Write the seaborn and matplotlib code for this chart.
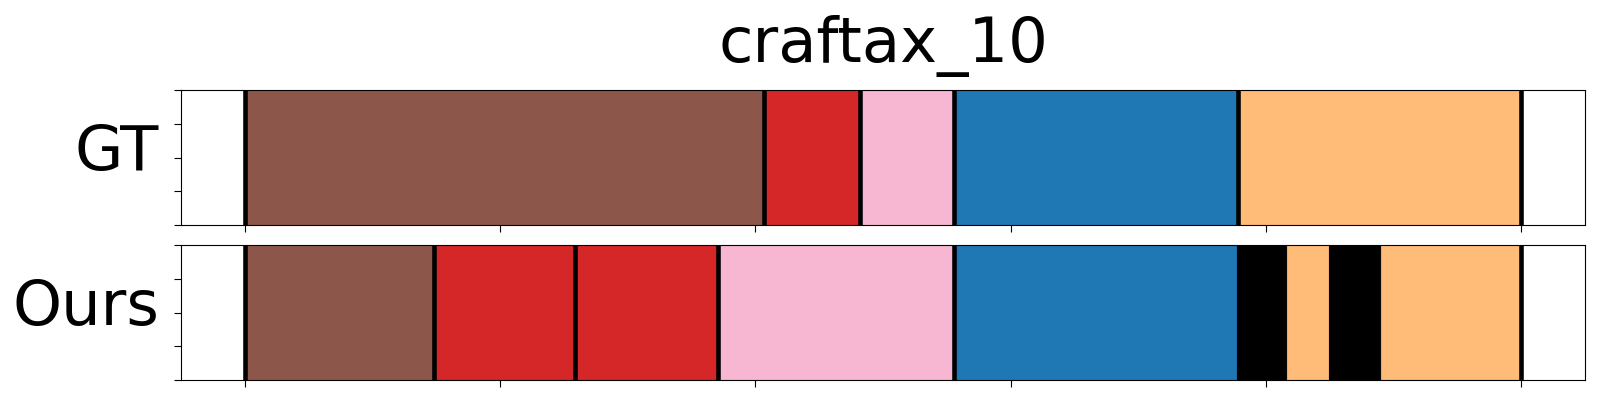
import matplotlib
matplotlib.use("Agg")
import matplotlib.pyplot as plt
import seaborn as sns
import numpy as np

# ---- data (percent of episode) ----
title = "craftax_10"
row_names = ["GT", "Ours"]

gt_bounds = [0, 40.7, 48.2, 55.55, 77.8, 100]
gt_labels = ["brown", "red", "pink", "blue", "orange"]

ours_bounds = [0, 14.8, 25.9, 37.05, 55.55, 77.7, 81.65, 84.95, 89.0, 100]
ours_labels = ["brown", "red", "red", "pink", "blue", "black", "orange", "black", "orange"]

x_ticks = [0, 20, 40, 60, 80, 100]
y_ticks = [0, 0.25, 0.5, 0.75, 1.0]

sns.set_style("white")
plt.rcParams["font.family"] = ["DejaVu Sans"]
plt.rcParams["axes.edgecolor"] = "black"
plt.rcParams["xtick.color"] = "black"
plt.rcParams["ytick.color"] = "black"
plt.rcParams["text.color"] = "black"
plt.rcParams["axes.labelcolor"] = "black"

tab10 = sns.color_palette("tab10")
tab20 = sns.color_palette("tab20")
colors = {
    "brown": tab10[5],
    "red": tab10[3],
    "pink": tab20[13],
    "blue": tab10[0],
    "orange": tab20[3],
    "black": (0, 0, 0),
}


def darker(c, f=0.9):
    return tuple(v * f for v in c)


fig = plt.figure(figsize=(16, 4), dpi=100)
ax1 = fig.add_axes([0.1131, 0.4375, 0.8775, 0.3375])
ax2 = fig.add_axes([0.1131, 0.05, 0.8775, 0.3375])

for ax, bounds, labels, name in [(ax1, gt_bounds, gt_labels, row_names[0]),
                                 (ax2, ours_bounds, ours_labels, row_names[1])]:
    starts = np.array(bounds[:-1])
    widths = np.diff(bounds)
    for s, w, lab in zip(starts, widths, labels):
        c = colors[lab]
        ax.barh(0.5, w, left=s, height=1.0, color=c,
                edgecolor=darker(c), linewidth=0.8, zorder=1)
    # separators at boundaries not adjacent to black segments
    for i, b in enumerate(bounds):
        left_lab = labels[i - 1] if i > 0 else None
        right_lab = labels[i] if i < len(labels) else None
        if left_lab == "black" or right_lab == "black":
            continue
        ax.axvline(b, color="black", linewidth=3.3, zorder=3)
    ax.set_xlim(-5, 105)
    ax.set_ylim(0, 1)
    ax.set_xticks(x_ticks)
    ax.set_xticklabels([])
    ax.set_yticks(y_ticks)
    ax.set_yticklabels([])
    ax.tick_params(axis="both", which="both", direction="out", length=4.9,
                   width=0.8, bottom=True, left=True)
    ax.set_ylabel(name, fontsize=45, rotation=0, ha="right", va="center",
                  color="black")
    ax.yaxis.set_label_coords(-0.0155, 0.53)
    for sp in ax.spines.values():
        sp.set_linewidth(0.8)
        sp.set_color("black")

ax1.set_title(title, fontsize=45, pad=20, color="black")

fig.savefig("out.png", dpi=100)
